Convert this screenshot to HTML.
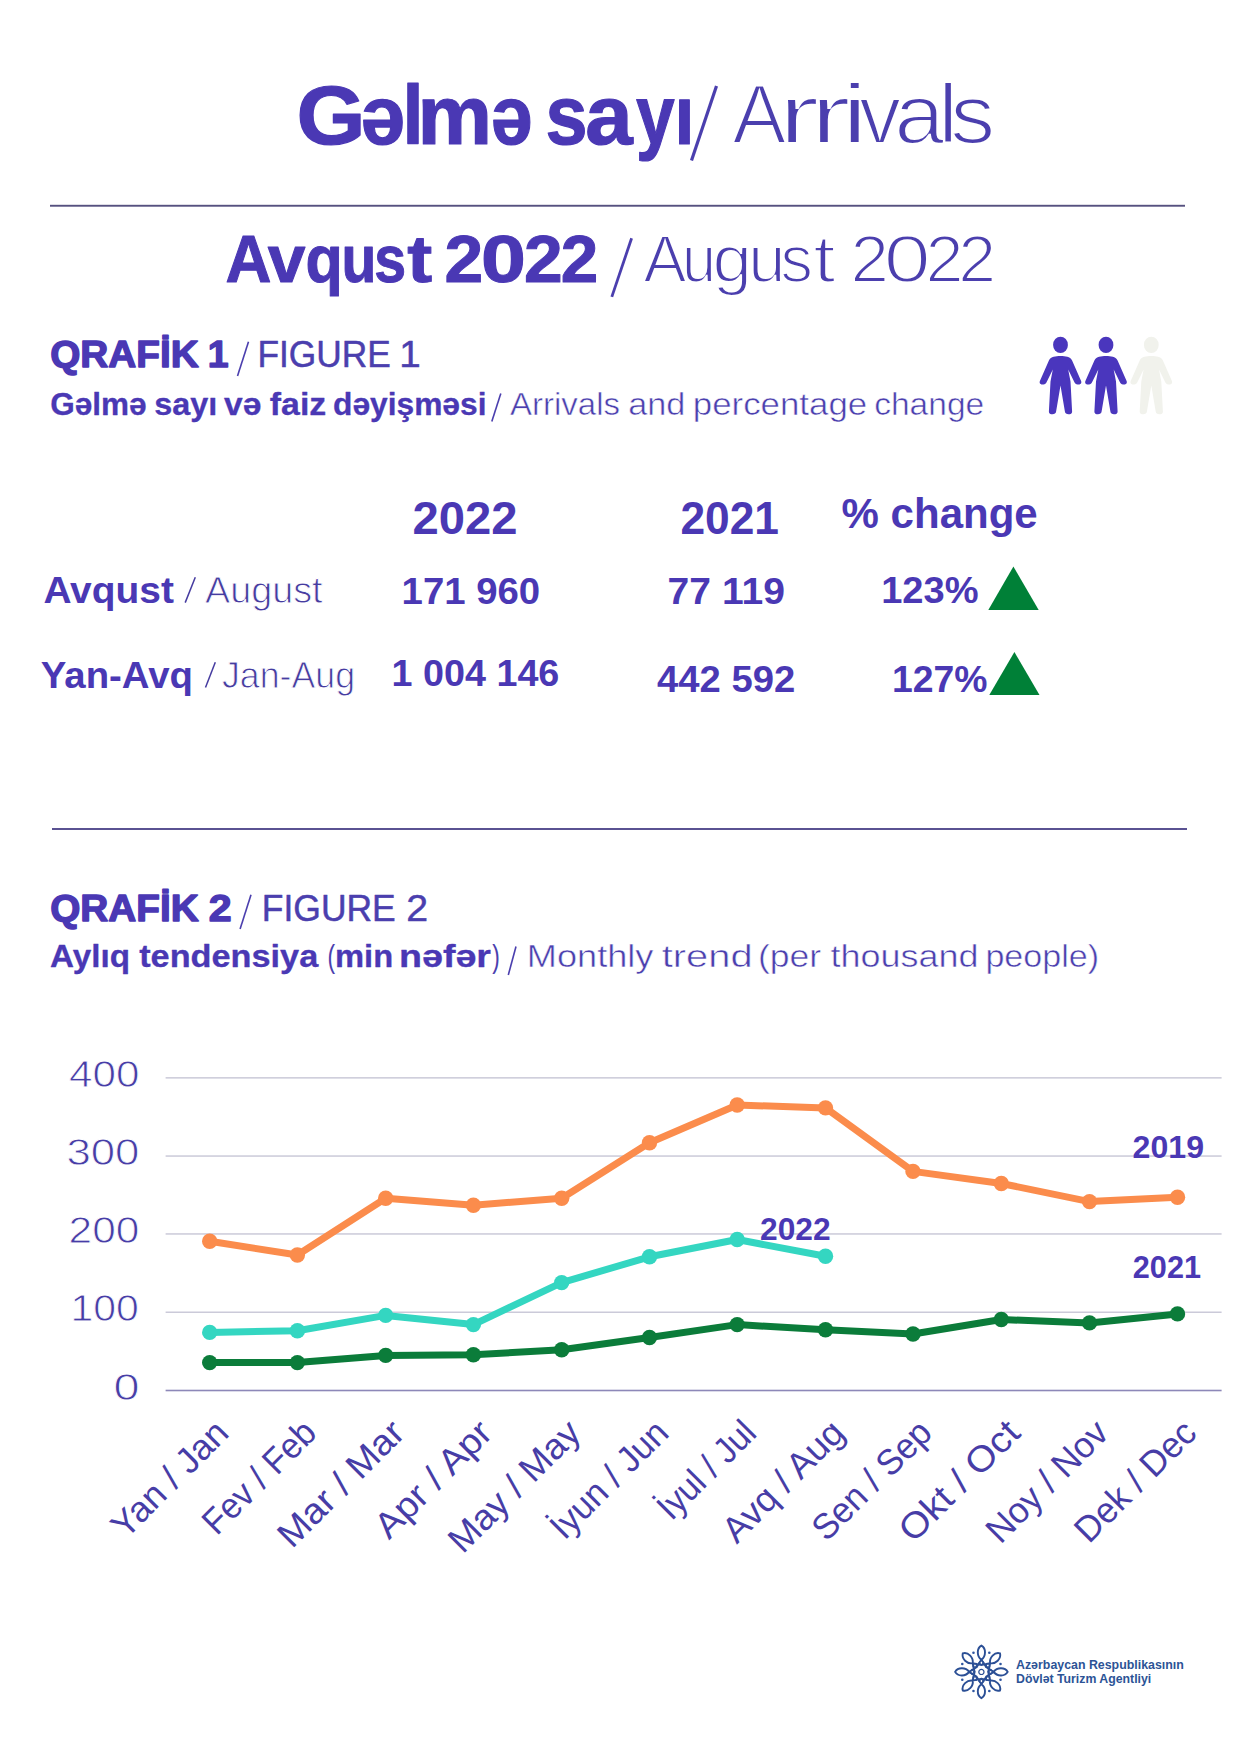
<!DOCTYPE html>
<html><head><meta charset="utf-8"><style>
html,body{margin:0;padding:0;background:#fff;overflow:hidden;width:1240px;height:1755px;}
svg{display:block;}
text{font-family:"Liberation Sans",sans-serif;}
</style></head><body>
<svg width="1240" height="1755" viewBox="0 0 1240 1755">
<rect width="1240" height="1755" fill="#fff"/>
<text id="t39600a30" x="296.40" y="143.50" font-size="83.00" font-weight="bold" fill="#4a38b4" textLength="69.01" lengthAdjust="spacingAndGlyphs" stroke="#4a38b4" stroke-width="1.2" stroke-linejoin="round">G</text>
<text id="t2e96ff72" x="360.60" y="143.50" font-size="83.00" font-weight="bold" fill="#4a38b4" textLength="44.49" lengthAdjust="spacingAndGlyphs" stroke="#4a38b4" stroke-width="1.2" stroke-linejoin="round">ə</text>
<text id="tc73db41d" x="402.60" y="143.50" font-size="83.00" font-weight="bold" fill="#4a38b4" textLength="21.03" lengthAdjust="spacingAndGlyphs" stroke="#4a38b4" stroke-width="1.2" stroke-linejoin="round">l</text>
<text id="t4e00c449" x="417.60" y="143.50" font-size="83.00" font-weight="bold" fill="#4a38b4" textLength="74.53" lengthAdjust="spacingAndGlyphs" stroke="#4a38b4" stroke-width="1.2" stroke-linejoin="round">m</text>
<text id="tf254ffb8" x="490.80" y="143.50" font-size="83.00" font-weight="bold" fill="#4a38b4" textLength="41.69" lengthAdjust="spacingAndGlyphs" stroke="#4a38b4" stroke-width="1.2" stroke-linejoin="round">ə</text>
<text id="teb7241e0" x="545.40" y="143.50" font-size="83.00" font-weight="bold" fill="#4a38b4" textLength="42.09" lengthAdjust="spacingAndGlyphs" stroke="#4a38b4" stroke-width="1.2" stroke-linejoin="round">s</text>
<text id="ta91468f1" x="585.20" y="143.50" font-size="83.00" font-weight="bold" fill="#4a38b4" textLength="47.45" lengthAdjust="spacingAndGlyphs" stroke="#4a38b4" stroke-width="1.2" stroke-linejoin="round">a</text>
<text id="t50bcb610" x="636.00" y="143.50" font-size="83.00" font-weight="bold" fill="#4a38b4" textLength="38.68" lengthAdjust="spacingAndGlyphs" stroke="#4a38b4" stroke-width="1.2" stroke-linejoin="round">y</text>
<text id="tb774f6eb" x="674.40" y="143.50" font-size="83.00" font-weight="bold" fill="#4a38b4" textLength="19.84" lengthAdjust="spacingAndGlyphs" stroke="#4a38b4" stroke-width="1.2" stroke-linejoin="round">ı</text>
<line x1="691.5" y1="160.5" x2="716.5" y2="86" stroke="#4b3fae" stroke-width="3.2" stroke-linecap="butt"/>
<text id="te16532be" x="732.50" y="142.80" font-size="83.00" font-weight="normal" fill="#4b3fae" textLength="53.66" lengthAdjust="spacingAndGlyphs" stroke="#fff" stroke-width="2.2">A</text>
<text id="td255e884" x="777.98" y="142.80" font-size="83.00" font-weight="normal" fill="#4b3fae" textLength="41.60" lengthAdjust="spacingAndGlyphs" stroke="#fff" stroke-width="2.2">r</text>
<text id="t376fdfc8" x="809.68" y="142.80" font-size="83.00" font-weight="normal" fill="#4b3fae" textLength="41.80" lengthAdjust="spacingAndGlyphs" stroke="#fff" stroke-width="2.2">r</text>
<text id="tdaf7f578" x="840.60" y="142.80" font-size="83.00" font-weight="normal" fill="#4b3fae" textLength="28.58" lengthAdjust="spacingAndGlyphs" stroke="#fff" stroke-width="2.2">i</text>
<text id="t15009ce1" x="859.30" y="142.80" font-size="83.00" font-weight="normal" fill="#4b3fae" textLength="41.70" lengthAdjust="spacingAndGlyphs" stroke="#fff" stroke-width="2.2">v</text>
<text id="t9abd2929" x="894.20" y="142.80" font-size="83.00" font-weight="normal" fill="#4b3fae" textLength="50.35" lengthAdjust="spacingAndGlyphs" stroke="#fff" stroke-width="2.2">a</text>
<text id="t310f277a" x="938.00" y="142.80" font-size="83.00" font-weight="normal" fill="#4b3fae" textLength="20.20" lengthAdjust="spacingAndGlyphs" stroke="#fff" stroke-width="2.2">l</text>
<text id="tfa0510f7" x="950.20" y="142.80" font-size="83.00" font-weight="normal" fill="#4b3fae" textLength="44.90" lengthAdjust="spacingAndGlyphs" stroke="#fff" stroke-width="2.2">s</text>
<rect x="50" y="204.8" width="1135" height="1.9" fill="#56517f"/>
<text id="t2e323d86" x="225.40" y="282.00" font-size="66.00" font-weight="bold" fill="#4a38b4" textLength="45.94" lengthAdjust="spacingAndGlyphs" stroke="#4a38b4" stroke-width="1.0" stroke-linejoin="round">A</text>
<text id="tb4efdc77" x="267.80" y="282.00" font-size="66.00" font-weight="bold" fill="#4a38b4" textLength="37.68" lengthAdjust="spacingAndGlyphs" stroke="#4a38b4" stroke-width="1.0" stroke-linejoin="round">v</text>
<text id="ta66cb2a1" x="305.60" y="282.00" font-size="66.00" font-weight="bold" fill="#4a38b4" textLength="37.25" lengthAdjust="spacingAndGlyphs" stroke="#4a38b4" stroke-width="1.0" stroke-linejoin="round">q</text>
<text id="t1494fc81" x="341.40" y="282.00" font-size="66.00" font-weight="bold" fill="#4a38b4" textLength="34.85" lengthAdjust="spacingAndGlyphs" stroke="#4a38b4" stroke-width="1.0" stroke-linejoin="round">u</text>
<text id="t29e467bb" x="374.20" y="282.00" font-size="66.00" font-weight="bold" fill="#4a38b4" textLength="31.87" lengthAdjust="spacingAndGlyphs" stroke="#4a38b4" stroke-width="1.0" stroke-linejoin="round">s</text>
<text id="t81a073d9" x="407.16" y="282.00" font-size="66.00" font-weight="bold" fill="#4a38b4" textLength="24.94" lengthAdjust="spacingAndGlyphs" stroke="#4a38b4" stroke-width="1.0" stroke-linejoin="round">t</text>
<text id="t06aadf5c" x="444.40" y="282.00" font-size="66.00" font-weight="bold" fill="#4a38b4" textLength="38.68" lengthAdjust="spacingAndGlyphs" stroke="#4a38b4" stroke-width="1.0" stroke-linejoin="round">2</text>
<text id="t8dcc110f" x="481.00" y="282.00" font-size="66.00" font-weight="bold" fill="#4a38b4" textLength="44.89" lengthAdjust="spacingAndGlyphs" stroke="#4a38b4" stroke-width="1.0" stroke-linejoin="round">0</text>
<text id="t498f2d84" x="524.00" y="282.00" font-size="66.00" font-weight="bold" fill="#4a38b4" textLength="38.68" lengthAdjust="spacingAndGlyphs" stroke="#4a38b4" stroke-width="1.0" stroke-linejoin="round">2</text>
<text id="t3bc1eff5" x="560.80" y="282.00" font-size="66.00" font-weight="bold" fill="#4a38b4" textLength="37.48" lengthAdjust="spacingAndGlyphs" stroke="#4a38b4" stroke-width="1.0" stroke-linejoin="round">2</text>
<line x1="611.8" y1="296.9" x2="631.6" y2="238.3" stroke="#4b3fae" stroke-width="2.8" stroke-linecap="butt"/>
<text id="t7e7979e3" x="643.60" y="282.00" font-size="66.00" font-weight="normal" fill="#4b3fae" textLength="43.01" lengthAdjust="spacingAndGlyphs" stroke="#fff" stroke-width="2.0">A</text>
<text id="t38dbc872" x="682.00" y="282.00" font-size="66.00" font-weight="normal" fill="#4b3fae" textLength="34.07" lengthAdjust="spacingAndGlyphs" stroke="#fff" stroke-width="2.0">u</text>
<text id="t2a945033" x="712.60" y="282.00" font-size="66.00" font-weight="normal" fill="#4b3fae" textLength="39.48" lengthAdjust="spacingAndGlyphs" stroke="#fff" stroke-width="2.0">g</text>
<text id="tb65883a7" x="748.20" y="282.00" font-size="66.00" font-weight="normal" fill="#4b3fae" textLength="37.28" lengthAdjust="spacingAndGlyphs" stroke="#fff" stroke-width="2.0">u</text>
<text id="tbc2e5d80" x="780.40" y="282.00" font-size="66.00" font-weight="normal" fill="#4b3fae" textLength="32.40" lengthAdjust="spacingAndGlyphs" stroke="#fff" stroke-width="2.0">s</text>
<text id="t59637fab" x="813.16" y="282.00" font-size="66.00" font-weight="normal" fill="#4b3fae" textLength="22.31" lengthAdjust="spacingAndGlyphs" stroke="#fff" stroke-width="2.0">t</text>
<text id="t5ad43cf5" x="850.40" y="282.00" font-size="66.00" font-weight="normal" fill="#4b3fae" textLength="38.48" lengthAdjust="spacingAndGlyphs" stroke="#fff" stroke-width="2.0">2</text>
<text id="tfca4483c" x="883.80" y="282.00" font-size="66.00" font-weight="normal" fill="#4b3fae" textLength="46.90" lengthAdjust="spacingAndGlyphs" stroke="#fff" stroke-width="2.0">0</text>
<text id="te1a9c6c0" x="925.40" y="282.00" font-size="66.00" font-weight="normal" fill="#4b3fae" textLength="38.08" lengthAdjust="spacingAndGlyphs" stroke="#fff" stroke-width="2.0">2</text>
<text id="tdce8486f" x="958.20" y="282.00" font-size="66.00" font-weight="normal" fill="#4b3fae" textLength="37.88" lengthAdjust="spacingAndGlyphs" stroke="#fff" stroke-width="2.0">2</text>
<text id="tcb14c2e9" x="50.20" y="367.00" font-size="37.50" font-weight="bold" fill="#4a38b4" textLength="148.52" lengthAdjust="spacingAndGlyphs" stroke="#4a38b4" stroke-width="1.4" stroke-linejoin="round">QRAFİK</text>
<text id="t14799472" x="207.80" y="367.00" font-size="37.50" font-weight="bold" fill="#4a38b4" textLength="20.84" lengthAdjust="spacingAndGlyphs" stroke="#4a38b4" stroke-width="1.4" stroke-linejoin="round">1</text>
<line x1="237.5" y1="376" x2="248.5" y2="341.7" stroke="#4b3fae" stroke-width="1.6" stroke-linecap="butt"/>
<text id="tab211020" x="257.40" y="367.00" font-size="37.50" font-weight="normal" fill="#4b3fae" textLength="133.33" lengthAdjust="spacingAndGlyphs" stroke="#4b3fae" stroke-width="0.5" stroke-linejoin="round">FIGURE</text>
<text id="tad025d2d" x="399.20" y="367.00" font-size="37.50" font-weight="normal" fill="#4b3fae" textLength="21.45" lengthAdjust="spacingAndGlyphs" stroke="#4b3fae" stroke-width="0.5" stroke-linejoin="round">1</text>
<text id="t59e940d8" x="50.20" y="414.50" font-size="30.50" font-weight="bold" fill="#4a38b4" textLength="96.27" lengthAdjust="spacingAndGlyphs" stroke="#4a38b4" stroke-width="0.3" stroke-linejoin="round">Gəlmə</text>
<text id="te918dbd1" x="154.20" y="414.50" font-size="30.50" font-weight="bold" fill="#4a38b4" textLength="63.04" lengthAdjust="spacingAndGlyphs" stroke="#4a38b4" stroke-width="0.3" stroke-linejoin="round">sayı</text>
<text id="t65ea4685" x="224.00" y="414.50" font-size="30.50" font-weight="bold" fill="#4a38b4" textLength="37.28" lengthAdjust="spacingAndGlyphs" stroke="#4a38b4" stroke-width="0.3" stroke-linejoin="round">və</text>
<text id="tce1930f0" x="269.80" y="414.50" font-size="30.50" font-weight="bold" fill="#4a38b4" textLength="56.47" lengthAdjust="spacingAndGlyphs" stroke="#4a38b4" stroke-width="0.3" stroke-linejoin="round">faiz</text>
<text id="t5040df2e" x="333.00" y="414.50" font-size="30.50" font-weight="bold" fill="#4a38b4" textLength="153.45" lengthAdjust="spacingAndGlyphs" stroke="#4a38b4" stroke-width="0.3" stroke-linejoin="round">dəyişməsi</text>
<line x1="491.8" y1="421.5" x2="500.8" y2="393.5" stroke="#4b3fae" stroke-width="1.6" stroke-linecap="butt"/>
<text id="tbfd3d6e5" x="510.00" y="414.70" font-size="30.50" font-weight="normal" fill="#4b3fae" textLength="109.96" lengthAdjust="spacingAndGlyphs" stroke="#fff" stroke-width="0.5">Arrivals</text>
<text id="t3c4779db" x="628.20" y="414.70" font-size="30.50" font-weight="normal" fill="#4b3fae" textLength="57.15" lengthAdjust="spacingAndGlyphs" stroke="#fff" stroke-width="0.5">and</text>
<text id="tdd7db198" x="692.80" y="414.70" font-size="30.50" font-weight="normal" fill="#4b3fae" textLength="174.37" lengthAdjust="spacingAndGlyphs" stroke="#fff" stroke-width="0.5">percentage</text>
<text id="t469636a8" x="874.20" y="414.70" font-size="30.50" font-weight="normal" fill="#4b3fae" textLength="110.03" lengthAdjust="spacingAndGlyphs" stroke="#fff" stroke-width="0.5">change</text>
<g transform="translate(1060.5,344.9)" fill="#4a36bd"><ellipse cx="0" cy="0" rx="7.4" ry="8.2"/><path d="M 0 11.2 C 5 11.2 9.5 11.8 11.6 15.5 L 20.6 36 C 21.6 38.5 19.5 39.8 17 39.6 C 15.5 39.5 14.5 38.5 13.8 37 L 7.7 24.6 L 10 36.5 L 11.6 66.5 C 11.8 68.5 10 69.3 8 69.3 C 6 69.3 4.6 68.3 4.4 66.5 L 0 40.5 L -4.4 66.5 C -4.6 68.3 -6 69.3 -8 69.3 C -10 69.3 -11.8 68.5 -11.6 66.5 L -10 36.5 L -7.7 24.6 L -13.8 37 C -14.5 38.5 -15.5 39.5 -17 39.6 C -19.5 39.8 -21.6 38.5 -20.6 36 L -11.6 15.5 C -9.5 11.8 -5 11.2 0 11.2 Z"/></g>
<g transform="translate(1106,344.9)" fill="#4a36bd"><ellipse cx="0" cy="0" rx="7.4" ry="8.2"/><path d="M 0 11.2 C 5 11.2 9.5 11.8 11.6 15.5 L 20.6 36 C 21.6 38.5 19.5 39.8 17 39.6 C 15.5 39.5 14.5 38.5 13.8 37 L 7.7 24.6 L 10 36.5 L 11.6 66.5 C 11.8 68.5 10 69.3 8 69.3 C 6 69.3 4.6 68.3 4.4 66.5 L 0 40.5 L -4.4 66.5 C -4.6 68.3 -6 69.3 -8 69.3 C -10 69.3 -11.8 68.5 -11.6 66.5 L -10 36.5 L -7.7 24.6 L -13.8 37 C -14.5 38.5 -15.5 39.5 -17 39.6 C -19.5 39.8 -21.6 38.5 -20.6 36 L -11.6 15.5 C -9.5 11.8 -5 11.2 0 11.2 Z"/></g>
<g transform="translate(1151.3,344.9)" fill="#f1f2ec"><ellipse cx="0" cy="0" rx="7.4" ry="8.2"/><path d="M 0 11.2 C 5 11.2 9.5 11.8 11.6 15.5 L 20.6 36 C 21.6 38.5 19.5 39.8 17 39.6 C 15.5 39.5 14.5 38.5 13.8 37 L 7.7 24.6 L 10 36.5 L 11.6 66.5 C 11.8 68.5 10 69.3 8 69.3 C 6 69.3 4.6 68.3 4.4 66.5 L 0 40.5 L -4.4 66.5 C -4.6 68.3 -6 69.3 -8 69.3 C -10 69.3 -11.8 68.5 -11.6 66.5 L -10 36.5 L -7.7 24.6 L -13.8 37 C -14.5 38.5 -15.5 39.5 -17 39.6 C -19.5 39.8 -21.6 38.5 -20.6 36 L -11.6 15.5 C -9.5 11.8 -5 11.2 0 11.2 Z"/></g>
<text id="teeff28b1" x="412.60" y="534.00" font-size="46.70" font-weight="bold" fill="#4a38b4" textLength="104.99" lengthAdjust="spacingAndGlyphs">2022</text>
<text id="tfe6f964e" x="680.40" y="534.00" font-size="46.70" font-weight="bold" fill="#4a38b4" textLength="98.59" lengthAdjust="spacingAndGlyphs">2021</text>
<text id="t3c2d236e" x="841.60" y="528.30" font-size="42.50" font-weight="bold" fill="#4a38b4" textLength="196.12" lengthAdjust="spacingAndGlyphs">% change</text>
<text id="t35a74372" x="43.40" y="602.60" font-size="36.80" font-weight="bold" fill="#4a38b4" textLength="130.49" lengthAdjust="spacingAndGlyphs">Avqust</text>
<line x1="185.2" y1="602.6" x2="195.3" y2="577.3" stroke="#463ca0" stroke-width="1.5" stroke-linecap="butt"/>
<text id="t0bd9e770" x="205.00" y="602.60" font-size="36.80" font-weight="normal" fill="#463ca0" textLength="117.54" lengthAdjust="spacingAndGlyphs" stroke="#fff" stroke-width="0.9">August</text>
<text id="t1b257bf8" x="401.60" y="603.60" font-size="37.70" font-weight="bold" fill="#4a38b4" textLength="138.59" lengthAdjust="spacingAndGlyphs">171 960</text>
<text id="t4a524788" x="667.60" y="603.60" font-size="37.70" font-weight="bold" fill="#4a38b4" textLength="117.34" lengthAdjust="spacingAndGlyphs">77 119</text>
<text id="t44426453" x="881.20" y="602.90" font-size="37.50" font-weight="bold" fill="#4a38b4" textLength="97.31" lengthAdjust="spacingAndGlyphs">123%</text>
<polygon points="1013.4,566.6 988.3,609.9 1038.7,609.9" fill="#008037"/>
<text id="t993f4400" x="40.80" y="687.90" font-size="36.80" font-weight="bold" fill="#4a38b4" textLength="152.16" lengthAdjust="spacingAndGlyphs">Yan-Avq</text>
<line x1="205.5" y1="687.6" x2="215.3" y2="662.3" stroke="#463ca0" stroke-width="1.5" stroke-linecap="butt"/>
<text id="t7552ed92" x="222.00" y="687.90" font-size="36.80" font-weight="normal" fill="#463ca0" textLength="132.99" lengthAdjust="spacingAndGlyphs" stroke="#fff" stroke-width="0.9">Jan-Aug</text>
<text id="tb56e5257" x="391.60" y="686.10" font-size="36.30" font-weight="bold" fill="#4a38b4" textLength="167.76" lengthAdjust="spacingAndGlyphs">1 004 146</text>
<text id="tf143aea3" x="657.00" y="692.00" font-size="36.00" font-weight="bold" fill="#4a38b4" textLength="138.19" lengthAdjust="spacingAndGlyphs">442 592</text>
<text id="tef55b0ff" x="892.00" y="691.90" font-size="37.00" font-weight="bold" fill="#4a38b4" textLength="95.51" lengthAdjust="spacingAndGlyphs">127%</text>
<polygon points="1014.4,652 989.3,695 1039.5,695" fill="#008037"/>
<rect x="52" y="828" width="1135" height="2" fill="#5a5292"/>
<text id="t832aa566" x="50.20" y="920.50" font-size="37.50" font-weight="bold" fill="#4a38b4" textLength="148.52" lengthAdjust="spacingAndGlyphs" stroke="#4a38b4" stroke-width="1.4" stroke-linejoin="round">QRAFİK</text>
<text id="t7e94fa2f" x="208.80" y="920.50" font-size="37.50" font-weight="bold" fill="#4a38b4" textLength="22.85" lengthAdjust="spacingAndGlyphs" stroke="#4a38b4" stroke-width="1.4" stroke-linejoin="round">2</text>
<line x1="240.1" y1="929" x2="251" y2="894.7" stroke="#4b3fae" stroke-width="1.6" stroke-linecap="butt"/>
<text id="t306aa400" x="261.80" y="920.50" font-size="37.50" font-weight="normal" fill="#4b3fae" textLength="133.93" lengthAdjust="spacingAndGlyphs" stroke="#4b3fae" stroke-width="0.5" stroke-linejoin="round">FIGURE</text>
<text id="tc4de9f95" x="406.20" y="920.50" font-size="37.50" font-weight="normal" fill="#4b3fae" textLength="21.85" lengthAdjust="spacingAndGlyphs" stroke="#4b3fae" stroke-width="0.5" stroke-linejoin="round">2</text>
<text id="t5d50af18" x="50.00" y="967.30" font-size="30.50" font-weight="bold" fill="#4a38b4" textLength="79.92" lengthAdjust="spacingAndGlyphs" stroke="#4a38b4" stroke-width="0.3" stroke-linejoin="round">Aylıq</text>
<text id="tb71c0824" x="139.20" y="967.30" font-size="30.50" font-weight="bold" fill="#4a38b4" textLength="179.03" lengthAdjust="spacingAndGlyphs" stroke="#4a38b4" stroke-width="0.3" stroke-linejoin="round">tendensiya</text>
<text id="tf4587ebd" x="327.60" y="967.30" font-size="30.50" font-weight="normal" fill="#4b3fae" textLength="7.56" lengthAdjust="spacingAndGlyphs">(</text>
<text id="tb4cebe9c" x="335.00" y="967.30" font-size="30.50" font-weight="bold" fill="#4a38b4" textLength="58.13" lengthAdjust="spacingAndGlyphs" stroke="#4a38b4" stroke-width="0.3" stroke-linejoin="round">min</text>
<text id="ta3242cc8" x="399.00" y="967.30" font-size="30.50" font-weight="bold" fill="#4a38b4" textLength="92.01" lengthAdjust="spacingAndGlyphs" stroke="#4a38b4" stroke-width="0.3" stroke-linejoin="round">nəfər</text>
<text id="t896658bf" x="492.20" y="967.30" font-size="30.50" font-weight="normal" fill="#4b3fae" textLength="7.56" lengthAdjust="spacingAndGlyphs">)</text>
<line x1="508.3" y1="975" x2="516" y2="946.5" stroke="#4b3fae" stroke-width="1.6" stroke-linecap="butt"/>
<text id="t7191ab41" x="526.80" y="967.30" font-size="30.50" font-weight="normal" fill="#4b3fae" textLength="126.66" lengthAdjust="spacingAndGlyphs" stroke="#fff" stroke-width="0.5">Monthly</text>
<text id="t90112ec1" x="661.80" y="967.30" font-size="30.50" font-weight="normal" fill="#4b3fae" textLength="90.78" lengthAdjust="spacingAndGlyphs" stroke="#fff" stroke-width="0.5">trend</text>
<text id="t629e0ec6" x="758.00" y="967.30" font-size="30.50" font-weight="normal" fill="#4b3fae" textLength="63.14" lengthAdjust="spacingAndGlyphs" stroke="#fff" stroke-width="0.5">(per</text>
<text id="t8fd402b5" x="830.60" y="967.30" font-size="30.50" font-weight="normal" fill="#4b3fae" textLength="147.99" lengthAdjust="spacingAndGlyphs" stroke="#fff" stroke-width="0.5">thousand</text>
<text id="t64a0d872" x="985.40" y="967.30" font-size="30.50" font-weight="normal" fill="#4b3fae" textLength="113.64" lengthAdjust="spacingAndGlyphs" stroke="#fff" stroke-width="0.5">people)</text>
<rect x="165.6" y="1077.1" width="1056" height="1.5" fill="#cbcad9"/>
<rect x="165.6" y="1155.3" width="1056" height="1.5" fill="#cbcad9"/>
<rect x="165.6" y="1233.2" width="1056" height="1.5" fill="#cbcad9"/>
<rect x="165.6" y="1311.5" width="1056" height="1.5" fill="#cbcad9"/>
<rect x="165.6" y="1389.7" width="1056" height="1.6" fill="#8d88b8"/>
<text id="t87a123a1" x="69.00" y="1087.00" font-size="37.00" font-weight="normal" fill="#473da6" textLength="70.34" lengthAdjust="spacingAndGlyphs" stroke="#fff" stroke-width="0.8">400</text>
<text id="t5efc2ca5" x="66.40" y="1165.20" font-size="37.00" font-weight="normal" fill="#473da6" textLength="72.94" lengthAdjust="spacingAndGlyphs" stroke="#fff" stroke-width="0.8">300</text>
<text id="tae10c6d1" x="68.60" y="1243.10" font-size="37.00" font-weight="normal" fill="#473da6" textLength="70.74" lengthAdjust="spacingAndGlyphs" stroke="#fff" stroke-width="0.8">200</text>
<text id="tfb3b412e" x="70.50" y="1321.40" font-size="37.00" font-weight="normal" fill="#473da6" textLength="68.34" lengthAdjust="spacingAndGlyphs" stroke="#fff" stroke-width="0.8">100</text>
<text id="tb4713607" x="113.40" y="1399.50" font-size="37.00" font-weight="normal" fill="#473da6" textLength="26.05" lengthAdjust="spacingAndGlyphs" stroke="#fff" stroke-width="0.8">0</text>
<polyline points="209.7,1241.3 297.4,1255 385.7,1198.2 473.4,1205.2 561.7,1198.2 649.5,1142.7 737.2,1105 825.5,1107.9 913,1171.4 1001.3,1183.5 1089.5,1201.6 1177.5,1197.2" fill="none" stroke="#fb8c4c" stroke-width="7" stroke-linejoin="round"/><circle cx="209.7" cy="1241.3" r="7.7" fill="#fb8c4c"/><circle cx="297.4" cy="1255" r="7.7" fill="#fb8c4c"/><circle cx="385.7" cy="1198.2" r="7.7" fill="#fb8c4c"/><circle cx="473.4" cy="1205.2" r="7.7" fill="#fb8c4c"/><circle cx="561.7" cy="1198.2" r="7.7" fill="#fb8c4c"/><circle cx="649.5" cy="1142.7" r="7.7" fill="#fb8c4c"/><circle cx="737.2" cy="1105" r="7.7" fill="#fb8c4c"/><circle cx="825.5" cy="1107.9" r="7.7" fill="#fb8c4c"/><circle cx="913" cy="1171.4" r="7.7" fill="#fb8c4c"/><circle cx="1001.3" cy="1183.5" r="7.7" fill="#fb8c4c"/><circle cx="1089.5" cy="1201.6" r="7.7" fill="#fb8c4c"/><circle cx="1177.5" cy="1197.2" r="7.7" fill="#fb8c4c"/>
<polyline points="209.7,1362.6 297.4,1362.6 385.7,1355.4 473.4,1354.8 561.7,1349.7 649.5,1337.5 737.2,1324.6 825.5,1329.8 913,1334 1001.3,1319.5 1089.5,1322.9 1177.5,1313.9" fill="none" stroke="#0b7c3a" stroke-width="7" stroke-linejoin="round"/><circle cx="209.7" cy="1362.6" r="7.7" fill="#0b7c3a"/><circle cx="297.4" cy="1362.6" r="7.7" fill="#0b7c3a"/><circle cx="385.7" cy="1355.4" r="7.7" fill="#0b7c3a"/><circle cx="473.4" cy="1354.8" r="7.7" fill="#0b7c3a"/><circle cx="561.7" cy="1349.7" r="7.7" fill="#0b7c3a"/><circle cx="649.5" cy="1337.5" r="7.7" fill="#0b7c3a"/><circle cx="737.2" cy="1324.6" r="7.7" fill="#0b7c3a"/><circle cx="825.5" cy="1329.8" r="7.7" fill="#0b7c3a"/><circle cx="913" cy="1334" r="7.7" fill="#0b7c3a"/><circle cx="1001.3" cy="1319.5" r="7.7" fill="#0b7c3a"/><circle cx="1089.5" cy="1322.9" r="7.7" fill="#0b7c3a"/><circle cx="1177.5" cy="1313.9" r="7.7" fill="#0b7c3a"/>
<polyline points="209.7,1332.4 297.4,1330.8 385.7,1315.4 473.4,1324.6 561.7,1282.6 649.5,1256.8 737.2,1239.5 825.5,1256.3" fill="none" stroke="#34d6c1" stroke-width="7" stroke-linejoin="round"/><circle cx="209.7" cy="1332.4" r="7.7" fill="#34d6c1"/><circle cx="297.4" cy="1330.8" r="7.7" fill="#34d6c1"/><circle cx="385.7" cy="1315.4" r="7.7" fill="#34d6c1"/><circle cx="473.4" cy="1324.6" r="7.7" fill="#34d6c1"/><circle cx="561.7" cy="1282.6" r="7.7" fill="#34d6c1"/><circle cx="649.5" cy="1256.8" r="7.7" fill="#34d6c1"/><circle cx="737.2" cy="1239.5" r="7.7" fill="#34d6c1"/><circle cx="825.5" cy="1256.3" r="7.7" fill="#34d6c1"/>
<text id="t0b5aa325" x="1132.60" y="1157.70" font-size="31.00" font-weight="bold" fill="#4a38b4" textLength="71.39" lengthAdjust="spacingAndGlyphs">2019</text>
<text id="tc3be4eb4" x="1132.80" y="1278.30" font-size="31.00" font-weight="bold" fill="#4a38b4" textLength="68.19" lengthAdjust="spacingAndGlyphs">2021</text>
<text id="tefc09eba" x="760.00" y="1240.00" font-size="31.00" font-weight="bold" fill="#4a38b4" textLength="70.59" lengthAdjust="spacingAndGlyphs">2022</text>
<text x="230.7" y="1434.9" font-size="36" fill="#473da6" text-anchor="end" textLength="148.49" lengthAdjust="spacingAndGlyphs" transform="rotate(-45 230.7 1434.9)">Yan / Jan</text>
<text x="318.4" y="1434.9" font-size="36" fill="#473da6" text-anchor="end" textLength="143.61" lengthAdjust="spacingAndGlyphs" transform="rotate(-45 318.4 1434.9)">Fev / Feb</text>
<text x="406.7" y="1434.9" font-size="36" fill="#473da6" text-anchor="end" textLength="162.14" lengthAdjust="spacingAndGlyphs" transform="rotate(-45 406.7 1434.9)">Mar / Mar</text>
<text x="494.4" y="1434.9" font-size="36" fill="#473da6" text-anchor="end" textLength="149.20" lengthAdjust="spacingAndGlyphs" transform="rotate(-45 494.4 1434.9)">Apr / Apr</text>
<text x="582.7" y="1434.9" font-size="36" fill="#473da6" text-anchor="end" textLength="169.64" lengthAdjust="spacingAndGlyphs" transform="rotate(-45 582.7 1434.9)">May / May</text>
<text x="670.5" y="1434.9" font-size="36" fill="#473da6" text-anchor="end" textLength="149.98" lengthAdjust="spacingAndGlyphs" transform="rotate(-45 670.5 1434.9)">İyun / Jun</text>
<text x="758.2" y="1434.9" font-size="36" fill="#473da6" text-anchor="end" textLength="122.68" lengthAdjust="spacingAndGlyphs" transform="rotate(-45 758.2 1434.9)">İyul / Jul</text>
<text x="846.5" y="1434.9" font-size="36" fill="#473da6" text-anchor="end" textLength="155.21" lengthAdjust="spacingAndGlyphs" transform="rotate(-45 846.5 1434.9)">Avq / Aug</text>
<text x="934.0" y="1434.9" font-size="36" fill="#473da6" text-anchor="end" textLength="152.17" lengthAdjust="spacingAndGlyphs" transform="rotate(-45 934.0 1434.9)">Sen / Sep</text>
<text x="1022.3" y="1434.9" font-size="36" fill="#473da6" text-anchor="end" textLength="154.15" lengthAdjust="spacingAndGlyphs" transform="rotate(-45 1022.3 1434.9)">Okt / Oct</text>
<text x="1110.5" y="1434.9" font-size="36" fill="#473da6" text-anchor="end" textLength="155.63" lengthAdjust="spacingAndGlyphs" transform="rotate(-45 1110.5 1434.9)">Noy / Nov</text>
<text x="1198.5" y="1434.9" font-size="36" fill="#473da6" text-anchor="end" textLength="154.86" lengthAdjust="spacingAndGlyphs" transform="rotate(-45 1198.5 1434.9)">Dek / Dec</text>
<g transform="translate(981.4,1671.9)" fill="none" stroke="#2b4f95" stroke-width="1.9"><path d="M 5 -4.5 L 0 -12.3 C -4.6 -15.5 -5 -23.5 0 -26.3 C 5 -23.5 4.6 -15.5 0 -12.3 L -5 -4.5" transform="rotate(0)"/><circle cx="7.92" cy="-19.12" r="1.3" fill="#2e55a0" stroke="none"/><path d="M 5 -4.5 L 0 -12.3 C -4.6 -15.5 -5 -23.5 0 -26.3 C 5 -23.5 4.6 -15.5 0 -12.3 L -5 -4.5" transform="rotate(45)"/><circle cx="19.12" cy="-7.92" r="1.3" fill="#2e55a0" stroke="none"/><path d="M 5 -4.5 L 0 -12.3 C -4.6 -15.5 -5 -23.5 0 -26.3 C 5 -23.5 4.6 -15.5 0 -12.3 L -5 -4.5" transform="rotate(90)"/><circle cx="19.12" cy="7.92" r="1.3" fill="#2e55a0" stroke="none"/><path d="M 5 -4.5 L 0 -12.3 C -4.6 -15.5 -5 -23.5 0 -26.3 C 5 -23.5 4.6 -15.5 0 -12.3 L -5 -4.5" transform="rotate(135)"/><circle cx="7.92" cy="19.12" r="1.3" fill="#2e55a0" stroke="none"/><path d="M 5 -4.5 L 0 -12.3 C -4.6 -15.5 -5 -23.5 0 -26.3 C 5 -23.5 4.6 -15.5 0 -12.3 L -5 -4.5" transform="rotate(180)"/><circle cx="-7.92" cy="19.12" r="1.3" fill="#2e55a0" stroke="none"/><path d="M 5 -4.5 L 0 -12.3 C -4.6 -15.5 -5 -23.5 0 -26.3 C 5 -23.5 4.6 -15.5 0 -12.3 L -5 -4.5" transform="rotate(225)"/><circle cx="-19.12" cy="7.92" r="1.3" fill="#2e55a0" stroke="none"/><path d="M 5 -4.5 L 0 -12.3 C -4.6 -15.5 -5 -23.5 0 -26.3 C 5 -23.5 4.6 -15.5 0 -12.3 L -5 -4.5" transform="rotate(270)"/><circle cx="-19.12" cy="-7.92" r="1.3" fill="#2e55a0" stroke="none"/><path d="M 5 -4.5 L 0 -12.3 C -4.6 -15.5 -5 -23.5 0 -26.3 C 5 -23.5 4.6 -15.5 0 -12.3 L -5 -4.5" transform="rotate(315)"/><circle cx="-7.92" cy="-19.12" r="1.3" fill="#2e55a0" stroke="none"/><circle cx="0" cy="0" r="2.6" stroke-width="1.2"/><rect x="-1.7" y="-11.2" width="3.4" height="3.4" stroke-width="1.1" transform="rotate(0) rotate(45 0 -9.5)"/><rect x="-1.7" y="-11.2" width="3.4" height="3.4" stroke-width="1.1" transform="rotate(45) rotate(45 0 -9.5)"/><rect x="-1.7" y="-11.2" width="3.4" height="3.4" stroke-width="1.1" transform="rotate(90) rotate(45 0 -9.5)"/><rect x="-1.7" y="-11.2" width="3.4" height="3.4" stroke-width="1.1" transform="rotate(135) rotate(45 0 -9.5)"/><rect x="-1.7" y="-11.2" width="3.4" height="3.4" stroke-width="1.1" transform="rotate(180) rotate(45 0 -9.5)"/><rect x="-1.7" y="-11.2" width="3.4" height="3.4" stroke-width="1.1" transform="rotate(225) rotate(45 0 -9.5)"/><rect x="-1.7" y="-11.2" width="3.4" height="3.4" stroke-width="1.1" transform="rotate(270) rotate(45 0 -9.5)"/><rect x="-1.7" y="-11.2" width="3.4" height="3.4" stroke-width="1.1" transform="rotate(315) rotate(45 0 -9.5)"/></g>
<text id="t6d8252a7" x="1016.00" y="1668.90" font-size="12.20" font-weight="bold" fill="#2c5396" textLength="167.80" lengthAdjust="spacingAndGlyphs">Azərbaycan Respublikasının</text>
<text id="tddb88f4b" x="1016.00" y="1683.40" font-size="12.20" font-weight="bold" fill="#2c5396" textLength="135.21" lengthAdjust="spacingAndGlyphs">Dövlət Turizm Agentliyi</text>
</svg>
</body></html>
